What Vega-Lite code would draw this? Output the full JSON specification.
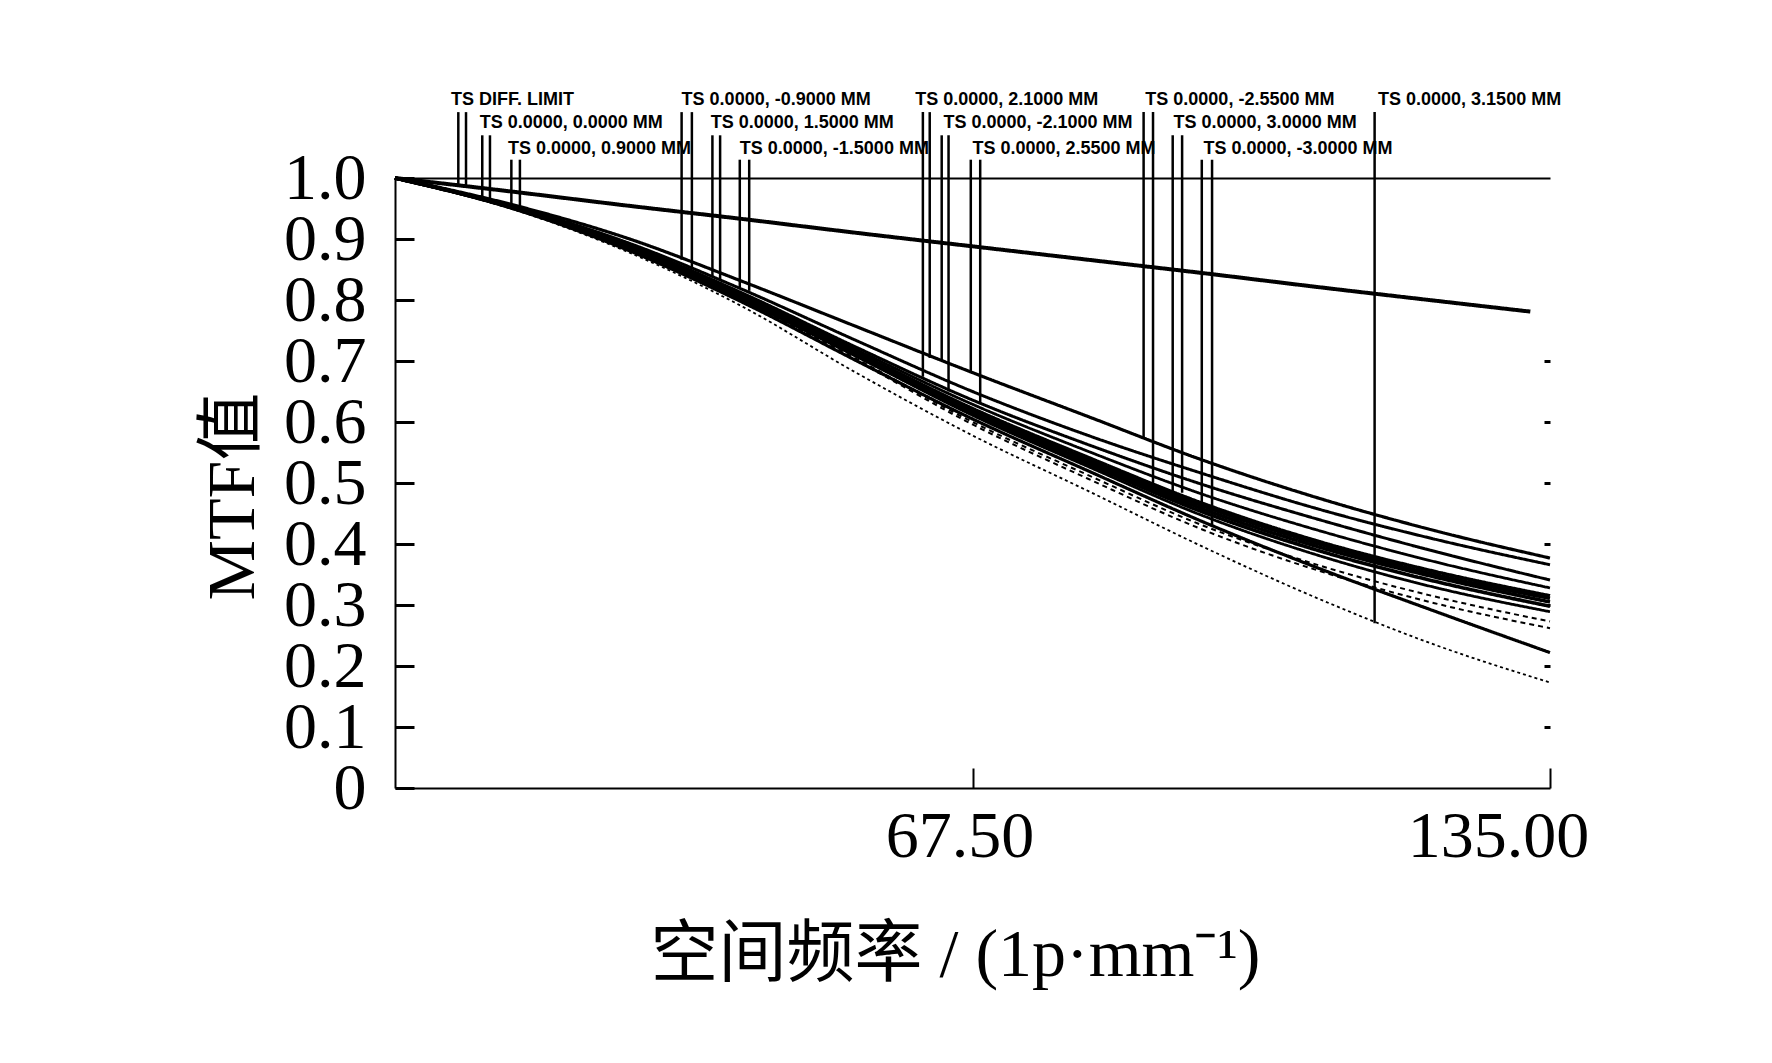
{
  "$schema": "https://vega.github.io/schema/vega-lite/v6.json",
  "autosize": {"type": "none"},
  "width": 1155,
  "height": 610,
  "padding": {"left": 395, "top": 178, "right": 222, "bottom": 275},
  "background": "white",
  "config": {"view": {"stroke": null}, "font": "Liberation Serif"},
  "datasets": {
    "curves": [
      {"curve": "DIFF LIMIT", "freq": 0, "mtf": 1}, {"curve": "DIFF LIMIT", "freq": 13.5, "mtf": 0.978}, {"curve": "DIFF LIMIT", "freq": 27, "mtf": 0.955}, {"curve": "DIFF LIMIT", "freq": 40.5, "mtf": 0.933}, {"curve": "DIFF LIMIT", "freq": 54, "mtf": 0.91}, {"curve": "DIFF LIMIT", "freq": 67.5, "mtf": 0.888}, {"curve": "DIFF LIMIT", "freq": 81, "mtf": 0.866}, {"curve": "DIFF LIMIT", "freq": 94.5, "mtf": 0.844}, {"curve": "DIFF LIMIT", "freq": 108, "mtf": 0.821}, {"curve": "DIFF LIMIT", "freq": 121.5, "mtf": 0.799}, {"curve": "DIFF LIMIT", "freq": 132.7, "mtf": 0.781},
      {"curve": "0.0000 T", "freq": 0, "mtf": 1}, {"curve": "0.0000 T", "freq": 13.5, "mtf": 0.957}, {"curve": "0.0000 T", "freq": 27, "mtf": 0.902}, {"curve": "0.0000 T", "freq": 40.5, "mtf": 0.831}, {"curve": "0.0000 T", "freq": 54, "mtf": 0.756}, {"curve": "0.0000 T", "freq": 67.5, "mtf": 0.681}, {"curve": "0.0000 T", "freq": 81, "mtf": 0.609}, {"curve": "0.0000 T", "freq": 94.5, "mtf": 0.537}, {"curve": "0.0000 T", "freq": 108, "mtf": 0.475}, {"curve": "0.0000 T", "freq": 121.5, "mtf": 0.422}, {"curve": "0.0000 T", "freq": 135, "mtf": 0.377},
      {"curve": "0.0000 S", "freq": 0, "mtf": 1}, {"curve": "0.0000 S", "freq": 13.5, "mtf": 0.955}, {"curve": "0.0000 S", "freq": 27, "mtf": 0.895}, {"curve": "0.0000 S", "freq": 40.5, "mtf": 0.818}, {"curve": "0.0000 S", "freq": 54, "mtf": 0.733}, {"curve": "0.0000 S", "freq": 67.5, "mtf": 0.65}, {"curve": "0.0000 S", "freq": 81, "mtf": 0.578}, {"curve": "0.0000 S", "freq": 94.5, "mtf": 0.515}, {"curve": "0.0000 S", "freq": 108, "mtf": 0.457}, {"curve": "0.0000 S", "freq": 121.5, "mtf": 0.408}, {"curve": "0.0000 S", "freq": 135, "mtf": 0.366},
      {"curve": "0.9000 T", "freq": 0, "mtf": 1}, {"curve": "0.9000 T", "freq": 13.5, "mtf": 0.954}, {"curve": "0.9000 T", "freq": 27, "mtf": 0.892}, {"curve": "0.9000 T", "freq": 40.5, "mtf": 0.812}, {"curve": "0.9000 T", "freq": 54, "mtf": 0.722}, {"curve": "0.9000 T", "freq": 67.5, "mtf": 0.636}, {"curve": "0.9000 T", "freq": 81, "mtf": 0.563}, {"curve": "0.9000 T", "freq": 94.5, "mtf": 0.497}, {"curve": "0.9000 T", "freq": 108, "mtf": 0.44}, {"curve": "0.9000 T", "freq": 121.5, "mtf": 0.388}, {"curve": "0.9000 T", "freq": 135, "mtf": 0.341},
      {"curve": "0.9000 S", "freq": 0, "mtf": 1}, {"curve": "0.9000 S", "freq": 13.5, "mtf": 0.953}, {"curve": "0.9000 S", "freq": 27, "mtf": 0.89}, {"curve": "0.9000 S", "freq": 40.5, "mtf": 0.809}, {"curve": "0.9000 S", "freq": 54, "mtf": 0.718}, {"curve": "0.9000 S", "freq": 67.5, "mtf": 0.629}, {"curve": "0.9000 S", "freq": 81, "mtf": 0.552}, {"curve": "0.9000 S", "freq": 94.5, "mtf": 0.481}, {"curve": "0.9000 S", "freq": 108, "mtf": 0.422}, {"curve": "0.9000 S", "freq": 121.5, "mtf": 0.371}, {"curve": "0.9000 S", "freq": 135, "mtf": 0.328},
      {"curve": "1.5000 T", "freq": 0, "mtf": 1}, {"curve": "1.5000 T", "freq": 13.5, "mtf": 0.953}, {"curve": "1.5000 T", "freq": 27, "mtf": 0.889}, {"curve": "1.5000 T", "freq": 40.5, "mtf": 0.806}, {"curve": "1.5000 T", "freq": 54, "mtf": 0.714}, {"curve": "1.5000 T", "freq": 67.5, "mtf": 0.622}, {"curve": "1.5000 T", "freq": 81, "mtf": 0.542}, {"curve": "1.5000 T", "freq": 94.5, "mtf": 0.466}, {"curve": "1.5000 T", "freq": 108, "mtf": 0.404}, {"curve": "1.5000 T", "freq": 121.5, "mtf": 0.355}, {"curve": "1.5000 T", "freq": 135, "mtf": 0.315},
      {"curve": "1.5000 S", "freq": 0, "mtf": 1}, {"curve": "1.5000 S", "freq": 13.5, "mtf": 0.953}, {"curve": "1.5000 S", "freq": 27, "mtf": 0.888}, {"curve": "1.5000 S", "freq": 40.5, "mtf": 0.805}, {"curve": "1.5000 S", "freq": 54, "mtf": 0.712}, {"curve": "1.5000 S", "freq": 67.5, "mtf": 0.619}, {"curve": "1.5000 S", "freq": 81, "mtf": 0.538}, {"curve": "1.5000 S", "freq": 94.5, "mtf": 0.462}, {"curve": "1.5000 S", "freq": 108, "mtf": 0.4}, {"curve": "1.5000 S", "freq": 121.5, "mtf": 0.35}, {"curve": "1.5000 S", "freq": 135, "mtf": 0.311},
      {"curve": "2.1000 T", "freq": 0, "mtf": 1}, {"curve": "2.1000 T", "freq": 13.5, "mtf": 0.952}, {"curve": "2.1000 T", "freq": 27, "mtf": 0.887}, {"curve": "2.1000 T", "freq": 40.5, "mtf": 0.803}, {"curve": "2.1000 T", "freq": 54, "mtf": 0.71}, {"curve": "2.1000 T", "freq": 67.5, "mtf": 0.616}, {"curve": "2.1000 T", "freq": 81, "mtf": 0.535}, {"curve": "2.1000 T", "freq": 94.5, "mtf": 0.457}, {"curve": "2.1000 T", "freq": 108, "mtf": 0.395}, {"curve": "2.1000 T", "freq": 121.5, "mtf": 0.346}, {"curve": "2.1000 T", "freq": 135, "mtf": 0.305},
      {"curve": "2.1000 S", "freq": 0, "mtf": 1}, {"curve": "2.1000 S", "freq": 13.5, "mtf": 0.952}, {"curve": "2.1000 S", "freq": 27, "mtf": 0.886}, {"curve": "2.1000 S", "freq": 40.5, "mtf": 0.802}, {"curve": "2.1000 S", "freq": 54, "mtf": 0.708}, {"curve": "2.1000 S", "freq": 67.5, "mtf": 0.613}, {"curve": "2.1000 S", "freq": 81, "mtf": 0.531}, {"curve": "2.1000 S", "freq": 94.5, "mtf": 0.452}, {"curve": "2.1000 S", "freq": 108, "mtf": 0.389}, {"curve": "2.1000 S", "freq": 121.5, "mtf": 0.339}, {"curve": "2.1000 S", "freq": 135, "mtf": 0.298},
      {"curve": "2.5500 T", "freq": 0, "mtf": 1}, {"curve": "2.5500 T", "freq": 13.5, "mtf": 0.952}, {"curve": "2.5500 T", "freq": 27, "mtf": 0.886}, {"curve": "2.5500 T", "freq": 40.5, "mtf": 0.801}, {"curve": "2.5500 T", "freq": 54, "mtf": 0.707}, {"curve": "2.5500 T", "freq": 67.5, "mtf": 0.611}, {"curve": "2.5500 T", "freq": 81, "mtf": 0.527}, {"curve": "2.5500 T", "freq": 94.5, "mtf": 0.446}, {"curve": "2.5500 T", "freq": 108, "mtf": 0.381}, {"curve": "2.5500 T", "freq": 121.5, "mtf": 0.329}, {"curve": "2.5500 T", "freq": 135, "mtf": 0.289},
      {"curve": "2.5500 S", "freq": 0, "mtf": 1}, {"curve": "2.5500 S", "freq": 13.5, "mtf": 0.951}, {"curve": "2.5500 S", "freq": 27, "mtf": 0.884}, {"curve": "2.5500 S", "freq": 40.5, "mtf": 0.799}, {"curve": "2.5500 S", "freq": 54, "mtf": 0.703}, {"curve": "2.5500 S", "freq": 67.5, "mtf": 0.6}, {"curve": "2.5500 S", "freq": 81, "mtf": 0.513}, {"curve": "2.5500 S", "freq": 94.5, "mtf": 0.43}, {"curve": "2.5500 S", "freq": 108, "mtf": 0.365}, {"curve": "2.5500 S", "freq": 121.5, "mtf": 0.314}, {"curve": "2.5500 S", "freq": 135, "mtf": 0.273},
      {"curve": "3.0000 T", "freq": 0, "mtf": 1}, {"curve": "3.0000 T", "freq": 13.5, "mtf": 0.951}, {"curve": "3.0000 T", "freq": 27, "mtf": 0.883}, {"curve": "3.0000 T", "freq": 40.5, "mtf": 0.797}, {"curve": "3.0000 T", "freq": 54, "mtf": 0.7}, {"curve": "3.0000 T", "freq": 67.5, "mtf": 0.596}, {"curve": "3.0000 T", "freq": 81, "mtf": 0.507}, {"curve": "3.0000 T", "freq": 94.5, "mtf": 0.423}, {"curve": "3.0000 T", "freq": 108, "mtf": 0.356}, {"curve": "3.0000 T", "freq": 121.5, "mtf": 0.303}, {"curve": "3.0000 T", "freq": 135, "mtf": 0.262},
      {"curve": "3.0000 S", "freq": 0, "mtf": 1}, {"curve": "3.0000 S", "freq": 13.5, "mtf": 0.951}, {"curve": "3.0000 S", "freq": 27, "mtf": 0.883}, {"curve": "3.0000 S", "freq": 40.5, "mtf": 0.797}, {"curve": "3.0000 S", "freq": 54, "mtf": 0.7}, {"curve": "3.0000 S", "freq": 67.5, "mtf": 0.605}, {"curve": "3.0000 S", "freq": 81, "mtf": 0.52}, {"curve": "3.0000 S", "freq": 94.5, "mtf": 0.436}, {"curve": "3.0000 S", "freq": 108, "mtf": 0.36}, {"curve": "3.0000 S", "freq": 121.5, "mtf": 0.29}, {"curve": "3.0000 S", "freq": 135, "mtf": 0.222},
      {"curve": "3.1500 T", "freq": 0, "mtf": 1}, {"curve": "3.1500 T", "freq": 13.5, "mtf": 0.95}, {"curve": "3.1500 T", "freq": 27, "mtf": 0.88}, {"curve": "3.1500 T", "freq": 40.5, "mtf": 0.79}, {"curve": "3.1500 T", "freq": 54, "mtf": 0.68}, {"curve": "3.1500 T", "freq": 67.5, "mtf": 0.578}, {"curve": "3.1500 T", "freq": 81, "mtf": 0.487}, {"curve": "3.1500 T", "freq": 94.5, "mtf": 0.395}, {"curve": "3.1500 T", "freq": 108, "mtf": 0.31}, {"curve": "3.1500 T", "freq": 121.5, "mtf": 0.235}, {"curve": "3.1500 T", "freq": 135, "mtf": 0.173}
    ],
    "markers": [
      {"freq": 7.4, "top": 1.108, "mtf": 0.988}, {"freq": 8.3, "top": 1.108, "mtf": 0.986},
      {"freq": 10.2, "top": 1.07, "mtf": 0.966}, {"freq": 11.1, "top": 1.07, "mtf": 0.962},
      {"freq": 13.6, "top": 1.03, "mtf": 0.953}, {"freq": 14.6, "top": 1.03, "mtf": 0.949},
      {"freq": 33.5, "top": 1.108, "mtf": 0.866}, {"freq": 34.7, "top": 1.108, "mtf": 0.852},
      {"freq": 37.1, "top": 1.07, "mtf": 0.838}, {"freq": 38.0, "top": 1.07, "mtf": 0.833},
      {"freq": 40.3, "top": 1.03, "mtf": 0.821}, {"freq": 41.4, "top": 1.03, "mtf": 0.815},
      {"freq": 61.7, "top": 1.108, "mtf": 0.674}, {"freq": 62.5, "top": 1.108, "mtf": 0.705},
      {"freq": 63.9, "top": 1.07, "mtf": 0.701}, {"freq": 64.7, "top": 1.07, "mtf": 0.65},
      {"freq": 67.3, "top": 1.03, "mtf": 0.682}, {"freq": 68.4, "top": 1.03, "mtf": 0.631},
      {"freq": 87.5, "top": 1.108, "mtf": 0.574}, {"freq": 88.6, "top": 1.108, "mtf": 0.494},
      {"freq": 90.9, "top": 1.07, "mtf": 0.477}, {"freq": 92.0, "top": 1.07, "mtf": 0.484},
      {"freq": 94.3, "top": 1.03, "mtf": 0.451}, {"freq": 95.5, "top": 1.03, "mtf": 0.428},
      {"freq": 114.5, "top": 1.108, "mtf": 0.27}
    ],
    "labels": [
      {"label": "TS DIFF. LIMIT", "freq": 6.55, "pos": 1.128},
      {"label": "TS 0.0000, 0.0000 MM", "freq": 9.9, "pos": 1.09},
      {"label": "TS 0.0000, 0.9000 MM", "freq": 13.2, "pos": 1.048},
      {"label": "TS 0.0000, -0.9000 MM", "freq": 33.5, "pos": 1.128},
      {"label": "TS 0.0000, 1.5000 MM", "freq": 36.9, "pos": 1.09},
      {"label": "TS 0.0000, -1.5000 MM", "freq": 40.3, "pos": 1.048},
      {"label": "TS 0.0000, 2.1000 MM", "freq": 60.8, "pos": 1.128},
      {"label": "TS 0.0000, -2.1000 MM", "freq": 64.1, "pos": 1.09},
      {"label": "TS 0.0000, 2.5500 MM", "freq": 67.5, "pos": 1.048},
      {"label": "TS 0.0000, -2.5500 MM", "freq": 87.7, "pos": 1.128},
      {"label": "TS 0.0000, 3.0000 MM", "freq": 91.0, "pos": 1.09},
      {"label": "TS 0.0000, -3.0000 MM", "freq": 94.5, "pos": 1.048},
      {"label": "TS 0.0000, 3.1500 MM", "freq": 114.9, "pos": 1.128}
    ]
  },
  "layer": [
    {
      "data": {"name": "curves"},
      "mark": {"type": "line", "interpolate": "monotone", "color": "black", "clip": false},
      "encoding": {
        "x": {
          "field": "freq", "type": "quantitative",
          "scale": {"domain": [0, 135], "nice": false, "zero": true},
          "axis": {
            "orient": "bottom", "values": [67.5, 135], "grid": false,
            "labelExpr": "format(datum.value, '.2f')",
            "labelFlush": false, "labelLimit": 0, "labelOverlap": false,
            "domainColor": "black", "domainWidth": 2,
            "tickColor": "black", "tickWidth": 2, "tickSize": -20,
            "labelFont": "Liberation Serif", "labelFontSize": 66, "labelColor": "black",
            "labelPadding": 36, "labelBaseline": "top",
            "labelOffset": {"condition": {"test": "datum.value == 135", "value": -52}, "value": -13},
            "title": "空间频率 / (1p·mm⁻¹)",
            "titleFont": "Liberation Serif, Noto Sans CJK SC", "titleFontSize": 68,
            "titleFontWeight": "normal", "titleColor": "black", "titlePadding": 52,
            "titleX": 560
          }
        },
        "y": {
          "field": "mtf", "type": "quantitative",
          "scale": {"domain": [0, 1], "nice": false},
          "axis": {
            "orient": "left", "values": [0, 0.1, 0.2, 0.3, 0.4, 0.5, 0.6, 0.7, 0.8, 0.9, 1.0], "grid": false,
            "labelExpr": "datum.value == 0 ? '0' : format(datum.value, '.1f')",
            "labelFlush": false, "labelOverlap": false, "labelLimit": 0,
            "domainColor": "black", "domainWidth": 2,
            "tickColor": "black", "tickWidth": 3, "tickSize": -19,
            "labelFont": "Liberation Serif", "labelFontSize": 66, "labelColor": "black",
            "labelPadding": 48, "labelLineHeight": 50,
            "title": "MTF值",
            "titleFont": "Liberation Serif, Noto Sans CJK SC", "titleFontSize": 68,
            "titleFontWeight": "normal", "titleColor": "black", "titlePadding": 16,
            "titleY": 318
          }
        },
        "detail": {"field": "curve"},
        "strokeDash": {
          "field": "curve", "type": "nominal", "legend": null,
          "scale": {
            "domain": ["DIFF LIMIT", "0.0000 T", "0.0000 S", "0.9000 T", "0.9000 S", "1.5000 T", "1.5000 S", "2.1000 T", "2.1000 S", "2.5500 T", "2.5500 S", "3.0000 T", "3.0000 S", "3.1500 T"],
            "range": [[1, 0], [1, 0], [1, 0], [1, 0], [1, 0], [1, 0], [1, 0], [1, 0], [1, 0], [1, 0], [5, 4], [5, 4], [1, 0], [3, 3]]
          }
        },
        "strokeWidth": {
          "field": "curve", "type": "nominal", "legend": null,
          "scale": {
            "type": "ordinal",
            "domain": ["DIFF LIMIT", "0.0000 T", "0.0000 S", "0.9000 T", "0.9000 S", "1.5000 T", "1.5000 S", "2.1000 T", "2.1000 S", "2.5500 T", "2.5500 S", "3.0000 T", "3.0000 S", "3.1500 T"],
            "range": [4, 3.2, 3, 3, 2.8, 3.6, 3.6, 3.6, 3.6, 2.8, 2, 2, 3.2, 1.8]
          }
        }
      }
    },
    {
      "data": {"name": "markers"},
      "mark": {"type": "rule", "color": "black", "strokeWidth": 2.5},
      "encoding": {
        "x": {
          "field": "freq", "type": "quantitative",
          "axis": {"orient": "top", "labels": false, "ticks": false, "title": null, "grid": false, "domainColor": "black", "domainWidth": 2}
        },
        "y": {
          "field": "top", "type": "quantitative",
          "axis": {"orient": "right", "labels": false, "title": null, "grid": false, "domain": false,
                   "values": [0.1, 0.2, 0.3, 0.4, 0.5, 0.6, 0.7],
                   "tickColor": "black", "tickWidth": 3, "tickSize": -6}
        },
        "y2": {"field": "mtf"}
      }
    },
    {
      "data": {"name": "labels"},
      "mark": {"type": "text", "align": "left", "baseline": "middle", "font": "Liberation Sans", "fontSize": 18, "fontWeight": "bold", "color": "black"},
      "encoding": {
        "x": {"field": "freq", "type": "quantitative", "axis": null},
        "y": {"field": "pos", "type": "quantitative", "axis": null},
        "text": {"field": "label"}
      }
    },
    {
      "mark": {"type": "rule", "color": "black", "strokeWidth": 2},
      "encoding": {
        "x": {"datum": 135, "type": "quantitative", "axis": null},
        "y": {"datum": 0, "type": "quantitative", "axis": null},
        "y2": {"datum": 0.775}
      }
    }
  ]
}
